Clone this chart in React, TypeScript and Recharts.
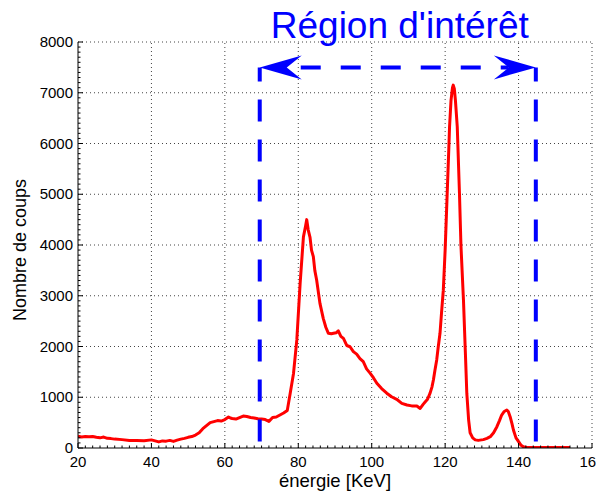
import React from 'react';
import { LineChart, Line, XAxis, YAxis, ReferenceLine, Customized } from 'recharts';

const energy: number[] = [20, 21, 22, 23, 24, 25, 26, 27, 28, 29, 30, 32, 34, 36, 38, 40, 41, 42, 43, 44, 45, 46, 47, 48, 49, 50, 51, 52, 53, 54, 55, 56, 57, 58, 59, 60, 61, 61.5, 62, 63, 64, 65, 66, 67, 68, 69, 70, 71, 72, 73, 74, 75, 76, 77, 77.8, 78.7, 79.6, 80.5, 81.4, 82, 82.3, 82.7, 83.2, 83.6, 84.1, 84.5, 85, 85.9, 86.8, 87.5, 88.2, 89, 89.6, 90.3, 90.9, 91.6, 92.3, 93.2, 94.1, 95, 95.9, 96.8, 97.7, 98.6, 99.6, 100.5, 101.4, 102.7, 104.1, 105.4, 106.8, 108.2, 109.6, 110.9, 112.3, 113.2, 114, 114.6, 115.2, 115.9, 116.4, 116.8, 117.2, 117.7, 118.1, 118.6, 119, 119.5, 120, 120.5, 121, 121.2, 121.6, 122, 122.2, 122.5, 122.8, 123.3, 123.9, 124.3, 125, 125.5, 125.9, 126.4, 126.8, 127.5, 128.2, 129, 130.4, 131.4, 132.3, 133.2, 134.1, 134.8, 135.4, 136.1, 136.8, 137.2, 137.7, 138.2, 138.6, 139.3, 140, 140.6, 141.3, 142, 144, 146, 148, 150, 152, 154];

const counts: number[] = [230, 215, 225, 220, 225, 210, 200, 215, 190, 185, 175, 165, 150, 150, 145, 160, 140, 120, 140, 135, 150, 130, 155, 175, 190, 210, 225, 255, 300, 380, 440, 500, 520, 540, 530, 560, 610, 590, 580, 570, 600, 630, 620, 600, 590, 575, 570, 560, 525, 600, 610, 650, 690, 740, 1080, 1470, 2130, 3240, 4160, 4380, 4500, 4300, 4150, 3900, 3770, 3500, 3310, 2850, 2555, 2380, 2260, 2250, 2260, 2270, 2310, 2200, 2160, 2020, 1995, 1900, 1850, 1760, 1700, 1560, 1470, 1380, 1275, 1170, 1080, 1010, 960, 880, 847, 830, 827, 780, 860, 912, 960, 1080, 1200, 1340, 1520, 1735, 1980, 2260, 2650, 3110, 3900, 4900, 5900, 6330, 6850, 7100, 7150, 7080, 6850, 6330, 5020, 4000, 2900, 1900, 1080, 550, 300, 200, 160, 150, 165, 190, 223, 300, 420, 540, 650, 720, 750, 720, 617, 480, 355, 200, 125, 60, 25, 15, 10, 10, 10, 10, 10, 10];

const xMajorTicks: number[] = [20, 40, 60, 80, 100, 120, 140, 160];
const yMajorTicks: number[] = [0, 1000, 2000, 3000, 4000, 5000, 6000, 7000, 8000];

const xAllTicks: number[] = [];
for (let v = 20; v <= 160; v += 2) xAllTicks.push(v);
const yAllTicks: number[] = [];
for (let v = 0; v <= 8000; v += 100) yAllTicks.push(v);

const roiStart = 69.5;
const roiEnd = 144.7;
const roiLevel = 7500;
const titleText = "Région d'intérêt";
const xLabel = 'énergie [KeV]';
const yLabel = 'Nombre de coups';

const data = energy.map((e, i) => ({ e, c: counts[i] }));

const FONT = '"Liberation Sans", Arial, Helvetica, sans-serif';
const BLUE = '#0000ff';

const YTick = (props: any) => {
  const { x, y, payload } = props;
  const major = payload.value % 1000 === 0;
  return (
    <g>
      <line x1={x} y1={y} x2={x + (major ? 5 : 2.5)} y2={y} stroke="#000" strokeWidth={1} />
      {major && (
        <text x={x - 5} y={y} dy={5} textAnchor="end" fontSize={15} fontFamily={FONT} fill="#000">
          {payload.value}
        </text>
      )}
    </g>
  );
};

const XTick = (props: any) => {
  const { x, y, payload } = props;
  const major = payload.value % 20 === 0;
  return (
    <g>
      <line x1={x} y1={y} x2={x} y2={y - (major ? 5 : 2.5)} stroke="#000" strokeWidth={1} />
      {major && (
        <text x={x} y={y} dy={19} textAnchor="middle" fontSize={15} fontFamily={FONT} fill="#000">
          {payload.value}
        </text>
      )}
    </g>
  );
};

const ArrowShape = (props: any) => {
  const { x1, y1, x2 } = props;
  const left = Math.min(x1, x2);
  const right = Math.max(x1, x2);
  const y = y1;
  const headLen = 42;
  const headHalf = 12;
  const notch = 27;
  return (
    <g>
      <line x1={left + notch} y1={y} x2={right - notch} y2={y} stroke={BLUE} strokeWidth={4} strokeDasharray="20 20" strokeDashoffset={-14} />
      <path d={`M${left},${y} L${left + headLen},${y - headHalf} L${left + notch},${y} L${left + headLen},${y + headHalf} Z`} fill={BLUE} stroke="none" />
      <path d={`M${right},${y} L${right - headLen},${y - headHalf} L${right - notch},${y} L${right - headLen},${y + headHalf} Z`} fill={BLUE} stroke="none" />
      <text x={(left + right) / 2 + 2} y={y - 29} textAnchor="middle" fontSize={37} fontFamily={FONT} fill={BLUE}>
        {titleText}
      </text>
    </g>
  );
};

const AxisLabels = () => (
  <g>
    <text x={20} y={250} textAnchor="middle" dominantBaseline="central" fontSize={18} fontFamily={FONT} fill="#000" transform="rotate(-90 20 250)">
      {yLabel}
    </text>
    <text x={335} y={487} textAnchor="middle" fontSize={18.5} fontFamily={FONT} fill="#000">
      {xLabel}
    </text>
  </g>
);

export default function App() {
  return (
    <div style={{ width: 604, height: 492, background: '#fff', margin: '-8px 0 0 -8px' }}>
      <LineChart width={604} height={492} data={data} margin={{ top: 42, right: 12, bottom: 0, left: 8 }}>
        {yMajorTicks.slice(1).map((v) => (
          <ReferenceLine key={'gy' + v} y={v} stroke="#444" strokeWidth={1} strokeDasharray="1 3" />
        ))}
        {xMajorTicks.slice(1).map((v) => (
          <ReferenceLine key={'gx' + v} x={v} stroke="#444" strokeWidth={1} strokeDasharray="1 3" />
        ))}
        <XAxis
          dataKey="e"
          type="number"
          domain={[20, 160]}
          ticks={xAllTicks}
          interval={0}
          tickSize={0}
          tickMargin={0}
          height={44}
          axisLine={{ stroke: '#000', strokeWidth: 1 }}
          tick={<XTick />}
          allowDataOverflow
        />
        <YAxis
          type="number"
          domain={[0, 8000]}
          ticks={yAllTicks}
          interval={0}
          tickSize={0}
          tickMargin={0}
          width={70}
          axisLine={{ stroke: '#000', strokeWidth: 1 }}
          tick={<YTick />}
          allowDataOverflow
        />
        <Line
          dataKey="c"
          type="linear"
          stroke="#ff0000"
          strokeWidth={3}
          dot={false}
          isAnimationActive={false}
          strokeLinejoin="round"
        />
        <ReferenceLine
          segment={[{ x: roiStart, y: roiLevel }, { x: roiStart, y: 0 }]}
          stroke={BLUE}
          strokeWidth={4}
          strokeDasharray="22 18"
          strokeDashoffset={8}
          ifOverflow="visible"
        />
        <ReferenceLine
          segment={[{ x: roiEnd, y: roiLevel }, { x: roiEnd, y: 0 }]}
          stroke={BLUE}
          strokeWidth={4}
          strokeDasharray="22 18"
          strokeDashoffset={8}
          ifOverflow="visible"
        />
        <ReferenceLine
          segment={[{ x: roiStart, y: roiLevel }, { x: roiEnd, y: roiLevel }]}
          ifOverflow="visible"
          shape={(p: any) => <ArrowShape {...p} />}
        />
        <Customized component={AxisLabels} />
      </LineChart>
    </div>
  );
}
